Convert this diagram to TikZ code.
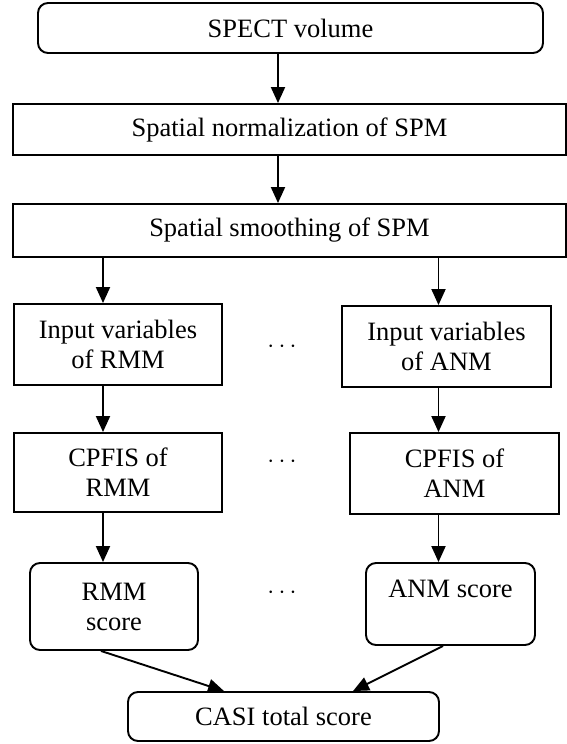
\documentclass[tikz,border=0pt]{standalone}
\usepackage{fontspec}
\setmainfont{Liberation Serif}
\usetikzlibrary{arrows.meta}
\begin{document}
\begin{tikzpicture}[x=1pt,y=-1pt,
  every node/.style={font=\fontsize{26.5}{30}\selectfont, align=center, inner sep=0pt},
  sqbox/.style={draw, line width=1.9pt},
  rdbox/.style={draw, line width=1.9pt, rounded corners=10pt},
  dotsnode/.style={font=\fontsize{31}{31}\selectfont},
  arr/.style={line width=1.9pt, -{Triangle[length=16pt,width=14pt]}}]
\useasboundingbox (0,0) rectangle (567,744);
\node[rdbox, minimum width=505pt, minimum height=50pt] (spect) at (290.5,28) {SPECT volume};
\node[sqbox, minimum width=553pt, minimum height=51pt] (norm) at (289.5,129.5) {Spatial normalization of SPM};
\node[sqbox, minimum width=553pt, minimum height=53pt] (smooth) at (289.5,230.5) {Spatial smoothing of SPM};
\node[sqbox, minimum width=208pt, minimum height=81pt] (inR) at (118,344.5) {Input variables\\of RMM};
\node[sqbox, minimum width=209pt, minimum height=81pt] (inA) at (446.5,346.5) {Input variables\\of ANM};
\node[sqbox, minimum width=208pt, minimum height=79pt] (cpR) at (118,472.5) {CPFIS of\\RMM};
\node[sqbox, minimum width=209pt, minimum height=81pt] (cpA) at (454.5,473.5) {CPFIS of\\ANM};
\node[rdbox, minimum width=168pt, minimum height=87pt] (scR) at (114,606.5) {RMM\\score};
\node[rdbox, minimum width=169pt, minimum height=82pt] (scA) at (450.5,604) {ANM score\\\vphantom{score}};
\node[rdbox, minimum width=311pt, minimum height=49pt] (casi) at (283.5,716.5) {CASI total score};
\node[dotsnode] (d1) at (282,347) {$\cdots$};
\node[dotsnode] (d2) at (282,462) {$\cdots$};
\node[dotsnode] (d3) at (282,593) {$\cdots$};
\coordinate (cm) at (278,0);
\coordinate (cl) at (103,0);
\coordinate (cr) at (438.5,0);
\coordinate (e1) at (101,0);
\coordinate (f1) at (224,0);
\coordinate (e2) at (443,0);
\coordinate (f2) at (353,0);
\draw[arr] (spect.south -| cm) -- (norm.north -| cm);
\draw[arr] (norm.south -| cm) -- (smooth.north -| cm);
\draw[arr] (smooth.south -| cl) -- (inR.north -| cl);
\draw[arr] (smooth.south -| cr) -- (inA.north -| cr);
\draw[arr] (inR.south -| cl) -- (cpR.north -| cl);
\draw[arr] (inA.south -| cr) -- (cpA.north -| cr);
\draw[arr] (cpR.south -| cl) -- (scR.north -| cl);
\draw[arr] (cpA.south -| cr) -- (scA.north -| cr);
\draw[arr] (scR.south -| e1) -- (casi.north -| f1);
\draw[arr] (scA.south -| e2) -- (casi.north -| f2);
\end{tikzpicture}
\end{document}
